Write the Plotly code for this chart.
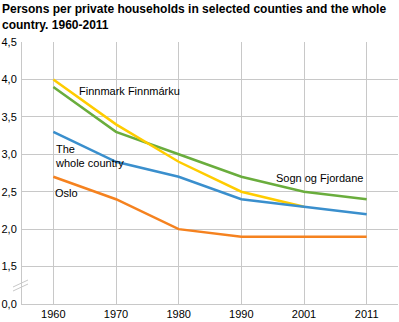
import plotly.graph_objects as go

years = ["1960", "1970", "1980", "1990", "2001", "2011"]
oslo = [2.7, 2.4, 2.0, 1.9, 1.9, 1.9]
sogn = [3.9, 3.3, 3.0, 2.7, 2.5, 2.4]
finnmark = [4.0, 3.4, 2.9, 2.5, 2.3, None]
whole = [3.3, 2.9, 2.7, 2.4, 2.3, 2.2]

y_tickvals = [1.0, 1.5, 2.0, 2.5, 3.0, 3.5, 4.0, 4.5]
y_ticktext = ["0,0", "1,5", "2,0", "2,5", "3,0", "3,5", "4,0", "4,5"]

FONT = "Liberation Sans, Arial, sans-serif"
PW, PH = 376, 262

fig = go.Figure()
series = [
    ("Oslo", oslo, "#F5821F"),
    ("Sogn og Fjordane", sogn, "#6AAD3D"),
    ("Finnmark Finnmárku", finnmark, "#FFCC00"),
    ("The whole country", whole, "#3A8FCD"),
]
for name, vals, col in series:
    fig.add_trace(go.Scatter(x=years, y=vals, mode="lines", name=name,
                             line=dict(color=col, width=2.5), connectgaps=False))

annots = [
    ("Finnmark Finnmárku", 0.37, 3.85),
    ("The<br>whole country", 0.0, 2.98),
    ("Oslo", 0.0, 2.48),
    ("Sogn og Fjordane", 3.52, 2.68),
]
for txt, xv, yv in annots:
    fig.add_annotation(x=xv, y=yv, xref="x", yref="y", text=txt, showarrow=False,
                       xanchor="left", yanchor="middle", align="left",
                       font=dict(family=FONT, size=11, color="#000000"))

# title
fig.add_annotation(x=-22 / PW, y=1 + 42 / PH, xref="paper", yref="paper",
                   xanchor="left", yanchor="top", align="left", showarrow=False,
                   text="<b>Persons per private households in selected counties and the whole<br>country. 1960-2011</b>",
                   font=dict(family=FONT, size=12, color="#000000"))

# axis break marks
for dy in (0, 4):
    fig.add_shape(type="line", xref="paper", yref="paper",
                  x0=(13 - 22) / PW, x1=(28 - 22) / PW,
                  y0=(304 - (289 + dy - 2)) / PH, y1=(304 - (282 + dy - 2)) / PH,
                  line=dict(color="#C8C8C8", width=1))

fig.update_layout(
    width=399, height=322,
    margin=dict(l=22, r=1, t=42, b=18),
    paper_bgcolor="white", plot_bgcolor="white",
    showlegend=False,
    xaxis=dict(type="category", range=[-0.5, 5.5], showgrid=True, gridcolor="#C8C8C8",
               gridwidth=1, showline=True, linecolor="#C8C8C8", ticks="", zeroline=False,
               tickfont=dict(family=FONT, size=11, color="#000000")),
    yaxis=dict(range=[1.0, 4.5], tickvals=y_tickvals, ticktext=y_ticktext,
               showgrid=True, gridcolor="#C8C8C8", gridwidth=1, showline=True,
               linecolor="#C8C8C8", ticks="", zeroline=False, ticklabelstandoff=2,
               tickfont=dict(family=FONT, size=11, color="#000000")),
)

fig.write_html("out.html")
